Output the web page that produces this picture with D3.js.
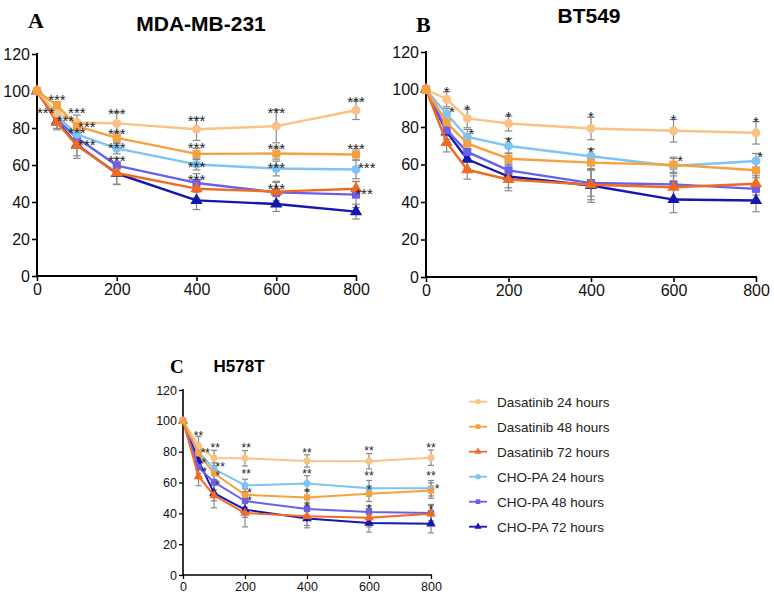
<!DOCTYPE html>
<html><head><meta charset="utf-8">
<script src="https://cdn.jsdelivr.net/npm/d3@7"></script>
<style>
body{margin:0;background:#fff;}
svg{display:block;}
text{font-family:"Liberation Sans",Arial,sans-serif;}
</style>
</head><body>
<svg id="chart" width="774" height="602"></svg>
<script>
// ---------- data ----------
const doses = [0, 50, 100, 200, 400, 600, 800];
const xTicks = [0, 200, 400, 600, 800];
const yTicks = [0, 20, 40, 60, 80, 100, 120];
const seriesNames = ["Dasatinib 24 hours", "Dasatinib 48 hours", "Dasatinib 72 hours",
                     "CHO-PA 24 hours", "CHO-PA 48 hours", "CHO-PA 72 hours"];
const panelTitles = ["MDA-MB-231", "BT549", "H578T"];
const panelLetters = ["A", "B", "C"];

// rows follow seriesNames
const mdaMeans = [
  [100, 88, 83, 82.5, 79.3, 81, 89.6],
  [100, 92.3, 81, 74.7, 66, 66.2, 65.7],
  [100, 83, 70.6, 55.7, 47.2, 45.6, 47.2],
  [100, 86.5, 76.6, 69, 60.3, 58.1, 57.6],
  [100, 84.7, 74.7, 59.7, 50.3, 45.2, 44],
  [100, 83.8, 71, 55.4, 40.9, 38.9, 34.8]
];
const mdaErrors = [
  [0, 3, 4, 6, 6, 9, 5],
  [0, 2, 3, 3, 3, 3, 3],
  [0, 4, 7, 6, 5, 5, 4],
  [0, 3, 4, 3, 3, 4, 5],
  [0, 3, 4, 4, 5, 6, 7],
  [0, 4, 6, 6, 5, 4, 4]
];
const btMeans = [
  [100, 94.8, 84.6, 81.9, 79.2, 78, 76.9],
  [100, 82.4, 71.2, 63.1, 61, 59.9, 56.9],
  [100, 71.7, 57.2, 52, 49.2, 47.9, 49.7],
  [100, 86.9, 74.7, 69.9, 64.4, 59.2, 61.9],
  [100, 78.3, 66.7, 56.9, 50.1, 49.4, 47],
  [100, 77.4, 62.8, 53.6, 48.8, 41.3, 40.8]
];
const btErrors = [
  [0, 4, 5, 4, 6, 6, 6],
  [0, 4, 4, 3, 4, 4, 4],
  [0, 5, 5, 6, 8, 6, 6],
  [0, 3, 4, 4, 4, 4, 4],
  [0, 3, 4, 4, 7, 8, 7],
  [0, 4, 5, 6, 9, 7, 6]
];
const hMeans = [
  [100, 83.9, 75.9, 75.7, 74, 73.8, 76.1],
  [100, 78.9, 66, 52, 50.3, 52.7, 54.8],
  [100, 63.9, 51.6, 40.2, 38.1, 37.2, 39.8],
  [100, 79.6, 68.8, 58.1, 59.4, 56.3, 56.3],
  [100, 69.9, 60.2, 48, 42.8, 40.9, 40.2],
  [100, 74.2, 53.1, 42.4, 36.6, 33.8, 33.3]
];
const hErrors = [
  [0, 6, 5, 5, 4, 5, 5],
  [0, 3, 4, 4, 5, 5, 5],
  [0, 6, 8, 9, 6, 6, 6],
  [0, 4, 4, 4, 5, 5, 5],
  [0, 4, 5, 4, 4, 4, 5],
  [0, 5, 5, 5, 6, 6, 6]
];
// significance marks: [dose, value, label]
const mdaStars = [
  [50, 96.8, "***"], [22, 89.6, "***"], [100, 90.1, "***"], [71, 85.6, "***"],
  [125, 82.5, "***"], [100, 79.3, "***"], [125, 72.4, "***"],
  [200, 89.2, "***"], [200, 78.7, "***"], [200, 71.1, "***"], [200, 63.9, "***"],
  [400, 85.6, "***"], [400, 70.8, "***"], [400, 60.6, "***"], [400, 53.6, "***"],
  [600, 89.6, "***"], [600, 70.2, "***"], [600, 60.3, "***"], [600, 48.9, "***"],
  [800, 95.9, "***"], [800, 70.2, "***"], [827, 60.3, "***"], [820, 46.3, "***"]
];
const btStars = [
  [50, 100.5, "*"], [63, 90, "*"], [100, 91, "*"], [110, 78, "*"],
  [200, 87, "*"], [200, 74, "*"], [400, 87, "*"], [400, 68.5, "*"],
  [600, 85.5, "*"], [616, 63.5, "*"], [800, 84.6, "*"], [810, 65.5, "*"]
];
const hStars = [
  [50, 92, "**"], [72, 81, "**"], [104, 84, "**"], [120, 71.6, "**"],
  [204, 84, "**"], [204, 67, "**"], [400, 80.6, "**"], [400, 67, "**"],
  [600, 82, "**"], [600, 66, "**"], [800, 84, "**"], [800, 66, "**"],
  [67, 74.6, "*"], [112, 65.6, "*"], [215, 55, "*"], [400, 54.8, "*"], [600, 57, "*"], [820, 57.4, "*"],
  [70, 68.8, "*"], [112, 60, "*"], [215, 49.5, "*"], [400, 46, "*"], [600, 44.5, "*"], [800, 43.7, "*"]
];

// ---------- styles ----------
const colors = ["#FBC285", "#F6A13F", "#F06B22", "#7DC3F3", "#6860EC", "#1616B0"];
const shapes = [d3.symbolCircle, d3.symbolSquare, d3.symbolTriangle,
                d3.symbolCircle, d3.symbolSquare, d3.symbolTriangle];
const drawOrder = [5, 4, 3, 2, 0, 1];

const panels = [
  {means: mdaMeans, errs: mdaErrors, stars: mdaStars, x0: 37, x1: 356, y0: 276, y1: 54,
   titleX: 201, titleY: 31, titleSize: 21, letterX: 28, letterY: 28, letterSize: 22,
   tickFont: 16, tickLen: 5, axisW: 2, lineW: 2.4, symSize: 62, starFont: 15, cap: 3.8},
  {means: btMeans, errs: btErrors, stars: btStars, x0: 426, x1: 756, y0: 277, y1: 52,
   titleX: 589, titleY: 23, titleSize: 21, letterX: 416, letterY: 32, letterSize: 22,
   tickFont: 16, tickLen: 5, axisW: 2, lineW: 2.4, symSize: 62, starFont: 15, cap: 3.8},
  {means: hMeans, errs: hErrors, stars: hStars, x0: 183, x1: 431, y0: 575, y1: 390,
   titleX: 239, titleY: 372, titleSize: 17, letterX: 170, letterY: 373, letterSize: 19,
   tickFont: 12.5, tickLen: 4, axisW: 1.6, lineW: 2, symSize: 38, starFont: 12, cap: 3}
];

const svg = d3.select("#chart");

panels.forEach((p, pi) => {
  const x = d3.scaleLinear().domain([0, 800]).range([p.x0, p.x1]);
  const y = d3.scaleLinear().domain([0, 120]).range([p.y0, p.y1]);
  const g = svg.append("g");

  // axes
  const yAxis = d3.axisLeft(y).tickValues(yTicks).tickSize(p.tickLen).tickPadding(2).tickFormat(d3.format("d"));
  const xAxis = d3.axisBottom(x).tickValues(xTicks).tickSize(p.tickLen).tickPadding(3).tickFormat(d3.format("d"));
  const ya = g.append("g").attr("transform", `translate(${p.x0},0)`).call(yAxis);
  const xa = g.append("g").attr("transform", `translate(0,${p.y0})`).call(xAxis);
  [ya, xa].forEach(a => {
    a.select(".domain").remove();
    a.selectAll(".tick line").attr("stroke", "#000").attr("stroke-width", p.axisW * 0.8);
    a.selectAll(".tick text").attr("fill", "#111").style("font-size", p.tickFont + "px")
      .style("font-family", "'Liberation Sans', Arial, sans-serif");
  });
  g.append("line").attr("x1", p.x0).attr("x2", p.x0).attr("y1", y(120) - 1).attr("y2", p.y0 + 1)
    .attr("stroke", "#000").attr("stroke-width", p.axisW);
  g.append("line").attr("x1", p.x0 - 1).attr("x2", x(800) + 1).attr("y1", p.y0).attr("y2", p.y0)
    .attr("stroke", "#000").attr("stroke-width", p.axisW);

  // titles
  g.append("text").attr("x", p.titleX).attr("y", p.titleY).attr("text-anchor", "middle")
    .style("font-size", p.titleSize + "px").style("font-weight", "bold").attr("fill", "#000")
    .text(panelTitles[pi]);
  g.append("text").attr("x", p.letterX).attr("y", p.letterY)
    .style("font-family", "'Liberation Serif', 'Times New Roman', serif")
    .style("font-size", p.letterSize + "px").style("font-weight", "bold").attr("fill", "#000")
    .text(panelLetters[pi]);

  // error bars
  drawOrder.forEach(si => {
    const eg = g.append("g").attr("stroke", "#8a8a8a").attr("stroke-width", 1.2);
    doses.forEach((d, i) => {
      const e = p.errs[si][i];
      if (!e) return;
      const v = p.means[si][i];
      eg.append("line").attr("x1", x(d)).attr("x2", x(d)).attr("y1", y(v - e)).attr("y2", y(v + e));
      [v - e, v + e].forEach(b => eg.append("line").attr("x1", x(d) - p.cap).attr("x2", x(d) + p.cap)
        .attr("y1", y(b)).attr("y2", y(b)));
    });
  });

  // lines + markers
  const line = d3.line().x((d, i) => x(doses[i])).y(d => y(d));
  drawOrder.forEach(si => {
    g.append("path").datum(p.means[si]).attr("d", line).attr("fill", "none")
      .attr("stroke", colors[si]).attr("stroke-width", p.lineW).attr("stroke-linejoin", "round");
    const sym = d3.symbol().type(shapes[si]).size(shapes[si] === d3.symbolCircle ? p.symSize : p.symSize * 1.05);
    g.selectAll(null).data(p.means[si]).enter().append("path")
      .attr("d", sym)
      .attr("transform", (d, i) => `translate(${x(doses[i])},${y(d)})`)
      .attr("fill", colors[si]);
  });

  // significance marks
  g.selectAll(null).data(p.stars).enter().append("text")
    .attr("x", d => x(d[0])).attr("y", d => y(d[1]) + p.starFont * 0.55)
    .attr("text-anchor", "middle").style("font-size", p.starFont + "px")
    .attr("fill", "#222").text(d => d[2]);
});

// ---------- legend ----------
const legendY = d3.scaleLinear().domain([0, 5]).range([401.7, 526.7]);
const lg = svg.append("g");
seriesNames.forEach((name, si) => {
  const cy = legendY(si);
  lg.append("line").attr("x1", 469).attr("x2", 487).attr("y1", cy).attr("y2", cy)
    .attr("stroke", colors[si]).attr("stroke-width", 1.8);
  lg.append("path").attr("d", d3.symbol().type(shapes[si]).size(22)())
    .attr("transform", `translate(478,${cy})`).attr("fill", colors[si]);
  lg.append("text").attr("x", 497).attr("y", cy + 4.8).style("font-size", "13.5px")
    .attr("fill", "#222").text(name);
});
</script>
</body></html>
